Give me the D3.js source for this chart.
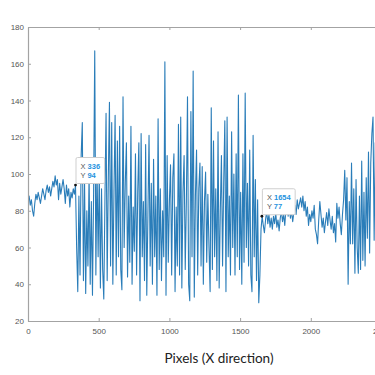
<!DOCTYPE html>
<html>
<head>
<meta charset="utf-8">
<script src="https://cdn.jsdelivr.net/npm/d3@7.9.0/dist/d3.min.js"></script>
<style>
  html, body { margin: 0; padding: 0; background: #fff; }
  svg { display: block; }
  .tick text { font-family: "Liberation Sans", Arial, sans-serif; font-size: 8px; fill: #555; }
</style>
</head>
<body>
<svg id="chart" width="375" height="375"></svg>
<script>
// pixel spacing between samples (x direction)
const pixelStep = 8;

// intensity profile in pieces
const quietStart = [
  85, 88, 83, 86, 80, 77, 84, 89, 86, 90,
  87, 84, 88, 92, 89, 86, 91, 94, 90, 93,
  88, 92, 96, 93, 99, 94, 97, 86, 95, 89,
  93, 97, 92, 84, 94, 88, 92, 82, 90, 87,
  92, 89, 94
];
const denseBand = [
  60, 36, 88, 45, 110, 128, 42, 95, 35, 80,
  50, 100, 40, 85, 34, 90, 167, 45, 105, 55,
  101, 38, 92, 48, 32, 85, 133, 42, 98, 139,
  50, 128, 40, 90, 132, 45, 118, 55, 126, 48,
  37, 142, 60, 95, 117, 44, 88, 52, 126, 40,
  82, 58, 111, 45, 90, 117, 31, 122, 55, 85,
  42, 116, 34, 78, 121, 50, 95, 40, 108, 55,
  88, 34, 130, 48, 92, 42, 80, 55, 161, 34,
  110, 52, 85, 105, 45, 98, 111, 36, 82, 50,
  127, 45, 131, 38, 90, 110, 48, 85, 142, 40,
  31, 134, 55, 156, 33, 88, 113, 45, 92, 106,
  50, 104, 40, 85, 101, 52, 89, 60, 36, 136,
  48, 118, 55, 92, 42, 123, 38, 80, 110, 50,
  95, 129, 36, 131, 55, 88, 45, 123, 60, 100,
  45, 111, 55, 143, 48, 90, 40, 111, 52, 144,
  60, 95, 50, 113, 45, 36, 121, 55, 97, 42,
  86, 30, 45, 70
];
const quietMiddle = [
  77, 72, 68, 75, 80, 73, 78, 71, 76, 70,
  77, 73, 79, 71, 75, 69, 76, 80, 74, 78,
  72, 81, 84, 77, 82, 76, 80, 74, 79, 83,
  78, 86, 81, 84, 87, 82, 88, 80, 85, 77,
  82, 72, 78, 74, 80, 76, 83, 70, 67, 62,
  75, 85, 78, 71, 76, 68, 74, 79, 72, 81,
  75, 70, 77, 68, 73, 63, 84, 76, 82, 73,
  67, 78, 86
];
const rightBand = [
  102, 75, 98, 40, 85, 62, 106, 62, 92, 46,
  97, 60, 46, 88, 48, 107, 53, 90, 50, 98,
  65, 112, 57, 106, 122, 131, 64, 117, 95, 110
];

const xTicks = [0, 500, 1000, 1500, 2000, 2500];
const yTicks = [20, 40, 60, 80, 100, 120, 140, 160, 180];

// data tips shown on the plot
const tipX = [336, 1654];
const tipY = [94, 77];

const intensity = quietStart.concat(denseBand, quietMiddle, rightBand);
const samples = intensity.map((v, i) => ({ x: i * pixelStep, y: v }));

const svg = d3.select('#chart');

const x = d3.scaleLinear().domain([0, 2500]).range([28, 381.5]);
const y = d3.scaleLinear().domain([20, 180]).range([321, 27]);

// clip the trace to the axes box
svg.append('clipPath').attr('id', 'plot-clip')
  .append('rect')
  .attr('x', 28).attr('y', 27)
  .attr('width', 381.5 - 28).attr('height', 321 - 27);

const line = d3.line().x(d => x(d.x)).y(d => y(d.y));

svg.append('path')
  .datum(samples)
  .attr('clip-path', 'url(#plot-clip)')
  .attr('fill', 'none')
  .attr('stroke', '#2a7db9')
  .attr('stroke-width', 1.1)
  .attr('stroke-linejoin', 'round')
  .attr('d', line);

// axes (MATLAB style: box, inward ticks)
const axisColor = '#a3a3a3';
const fmt = d3.format('d');

const xAxis = svg.append('g')
  .attr('transform', 'translate(0,321)')
  .call(d3.axisBottom(x).tickValues(xTicks).tickFormat(fmt)
    .tickSizeInner(-3).tickSizeOuter(0).tickPadding(7));

const xTop = svg.append('g')
  .attr('transform', 'translate(0,27)')
  .call(d3.axisTop(x).tickValues(xTicks).tickSizeInner(-3).tickSizeOuter(0).tickFormat(''));

const yAxis = svg.append('g')
  .attr('transform', 'translate(28,0)')
  .call(d3.axisLeft(y).tickValues(yTicks).tickFormat(fmt)
    .tickSizeInner(-3).tickSizeOuter(0).tickPadding(4));

[xAxis, xTop, yAxis].forEach(g => {
  g.select('.domain').attr('stroke', axisColor).attr('stroke-width', 1.2);
  g.selectAll('.tick line').attr('stroke', axisColor).attr('stroke-width', 1);
});

// x axis title
svg.append('text')
  .attr('x', 219)
  .attr('y', 362.5)
  .attr('text-anchor', 'middle')
  .attr('font-family', 'Lato, "Open Sans", sans-serif')
  .attr('font-size', 13.5)
  .attr('fill', '#222')
  .text('Pixels (X direction)');

// data tips
tipX.forEach((tx, i) => {
  const mx = x(tx);
  const my = y(tipY[i]);

  const tip = svg.append('g');
  const box = tip.append('rect')
    .attr('fill', 'white')
    .attr('stroke', '#cfcfcf')
    .attr('stroke-width', 1)
    .attr('rx', 1.5);

  const rows = [['X', tx], ['Y', tipY[i]]];
  let maxW = 0;
  rows.forEach((r, j) => {
    const t = tip.append('text')
      .attr('x', mx + 5)
      .attr('y', my - 16.5 + j * 9.7)
      .attr('font-family', '"Liberation Sans", Arial, sans-serif')
      .attr('font-size', 7.5);
    t.append('tspan').attr('fill', '#555').text(r[0] + ' ');
    t.append('tspan').attr('fill', '#1f93e0').attr('font-weight', 'bold').text(r[1]);
    maxW = Math.max(maxW, t.node().getComputedTextLength());
  });

  box.attr('x', mx + 0.5)
    .attr('y', my - 27.5)
    .attr('width', maxW + 9)
    .attr('height', 26);

  tip.append('circle')
    .attr('cx', mx).attr('cy', my).attr('r', 1.4)
    .attr('fill', '#111');
});
</script>
</body>
</html>
